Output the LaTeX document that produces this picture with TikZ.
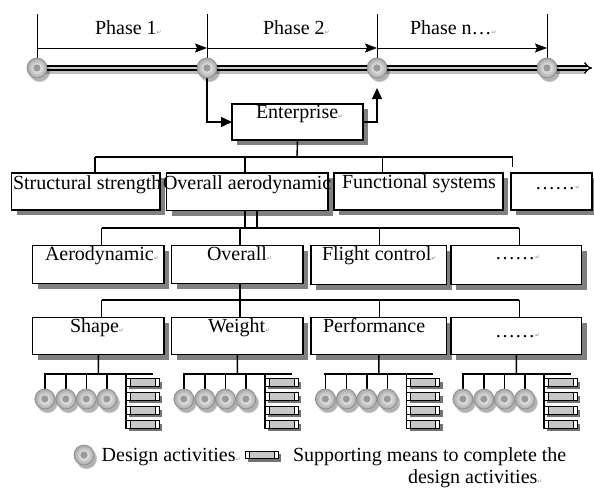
\documentclass[tikz,border=0pt]{standalone}
\usepackage{fontspec}
\setmainfont{Liberation Serif}
\newfontfamily\symfont{DejaVu Sans}
\usetikzlibrary{arrows.meta,shadows}
\newcommand{\retmark}{{\symfont\fontsize{6}{7}\selectfont\textcolor{black!45}{↵}}}
\begin{document}
\begin{tikzpicture}[x=1pt,y=-1pt,
  every node/.style={inner sep=0pt,outer sep=0pt},
  lbl/.style={anchor=base west,font=\fontsize{20}{24}\selectfont},
  box/.style={draw,line width=1.5pt,fill=white,anchor=north west,
    drop shadow={shadow xshift=5pt,shadow yshift=-5pt,fill=black!50,opacity=1}},
  conn/.style={line width=1.4pt},
  tick/.style={line width=1pt},
  tip/.style={-{Triangle[length=11pt,width=10pt]}},
  ball/.style={circle,minimum size=20pt,draw=black!45,line width=0.7pt,
    inner color=white,outer color=black!35,
    path picture={\fill[black!40] (path picture bounding box.center) circle (3.6pt);},
    circular drop shadow={shadow xshift=2pt,shadow yshift=-3pt,fill=black,opacity=0.3}},
  bar/.style={rectangle,minimum width=33pt,minimum height=7.5pt,draw=black,line width=1pt,fill=black!22,
    drop shadow={shadow xshift=3pt,shadow yshift=-3pt,fill=black!55,opacity=1},
    path picture={
      \fill[white] (path picture bounding box.south west) rectangle ([xshift=4pt]path picture bounding box.north west);
      \fill[white] ([xshift=-4pt]path picture bounding box.south east) rectangle (path picture bounding box.north east);
      \draw[line width=0.8pt] ([xshift=4pt]path picture bounding box.south west) -- ([xshift=4pt]path picture bounding box.north west);
      \draw[line width=0.8pt] ([xshift=-4pt]path picture bounding box.south east) -- ([xshift=-4pt]path picture bounding box.north east);}}
]
\useasboundingbox (0,0) rectangle (594,488);

% ---------- timeline ----------
\coordinate (tend) at (592,68);
\foreach \i/\x in {1/37,2/207,3/377,4/547} {
  \coordinate (t\i) at (\x,68);
  \coordinate (k\i) at (\x,14);
  \coordinate (a\i) at (\x,48);
}
\draw[black!25,line width=4pt] (37,72) -- (585,72);
\draw[line width=1.3pt,double=black!20,double distance=2.6pt,-{Implies}] (t1) -- (tend);
\foreach \i in {1,...,4} \draw[tick] (k\i) -- (t\i);
\draw[tick,-{Stealth[length=12pt,width=9pt,inset=2pt]}] (a1) -- (a2);
\draw[tick,-{Stealth[length=12pt,width=9pt,inset=2pt]}] (a2) -- (a3);
\draw[tick,-{Stealth[length=12pt,width=9pt,inset=2pt]}] (a3) -- (a4);
\node[lbl] (ph1) at (95,34) {Phase 1\retmark};
\node[lbl] (ph2) at (263,34) {Phase 2\retmark};
\node[lbl] (ph3) at (410,34) {Phase n…\retmark};

% ---------- Enterprise ----------
\node[box,minimum width=131pt,minimum height=36pt] (E) at (232,104) {};
\node[lbl] (Et) at (256,118) {Enterprise\retmark};
\draw[conn,tip] (t2) |- (E.west);
\draw[conn,tip] (E.east) -| ([yshift=-20pt]t3.center);
\foreach \i in {1,...,4} \node[ball] (tb\i) at (t\i) {};

% ---------- level 1 ----------
\draw[conn] (E.south) -- (297,157);
\draw[conn] (95,157) -- (512.7,157);
\node[box,minimum width=148.3pt,minimum height=37pt] (B1) at (11.7,173) {};
\node[lbl] (B1t) at (13,189) {Structural strength};
\node[box,minimum width=161.3pt,minimum height=37.5pt] (B2) at (166.7,173) {};
\node[lbl] (B2t) at (163,189) {Overall aerodynamic};
\node[box,minimum width=169pt,minimum height=37pt] (B3) at (334,173) {};
\node[lbl] (B3t) at (342,188) {Functional systems};
\node[box,minimum width=81pt,minimum height=37pt] (B4) at (511,173) {};
\node[lbl] (B4t) at (535,189) {……\retmark};
\draw[conn] (95,157) -- (95,0 |- B1.north);
\draw[conn] (245,157) -- (245,0 |- B2.north);
\draw[conn] (382.7,157) -- (382.7,0 |- B3.north);
\draw[conn] (512.7,157) -- (512.7,167);

% ---------- level 2 ----------
\draw[conn] (245,0 |- B2.south) -- (245,228);
\draw[conn] (257,0 |- B2.south) -- (257,228);
\draw[conn] (101.7,228) -- (519.3,228);
\node[box,minimum width=131.3pt,minimum height=38pt] (A) at (32.7,245.5) {};
\node[lbl] (At) at (45,260) {Aerodynamic\retmark};
\node[box,minimum width=131.3pt,minimum height=38pt] (O) at (171.7,245.5) {};
\node[lbl] (Ot) at (207,260) {Overall\retmark};
\node[box,minimum width=135.7pt,minimum height=39pt] (F) at (311,245.5) {};
\node[lbl] (Ft) at (322,260) {Flight control\retmark};
\node[box,minimum width=130.7pt,minimum height=39pt] (D) at (451,245.5) {};
\node[lbl] (Dt) at (495,259) {……\retmark};
\draw[conn] (101.7,228) -- (101.7,0 |- A.north);
\draw[conn] (240,228) -- (240,0 |- O.north);
\draw[conn] (379.3,228) -- (379.3,0 |- F.north);
\draw[conn] (519.3,228) -- (519.3,0 |- D.north);

% ---------- level 3 ----------
\draw[conn] (240,0 |- O.south) -- (240,300);
\draw[conn] (101.7,300) -- (519.3,300);
\node[box,minimum width=131.3pt,minimum height=37pt] (S) at (32.7,317.7) {};
\node[lbl] (St) at (70,332) {Shape\retmark};
\node[box,minimum width=131.3pt,minimum height=37pt] (W) at (171.7,317.7) {};
\node[lbl] (Wt) at (208,332) {Weight\retmark};
\node[box,minimum width=135.7pt,minimum height=37pt] (P) at (311,317.7) {};
\node[lbl] (Pt) at (323,332) {Performance};
\node[box,minimum width=130.7pt,minimum height=37pt] (D3) at (451,317.7) {};
\node[lbl] (D3t) at (495,337) {……\retmark};
\draw[conn] (101.7,300) -- (101.7,0 |- S.north);
\draw[conn] (240,300) -- (240,0 |- W.north);
\draw[conn] (379.3,300) -- (379.3,0 |- P.north);
\draw[conn] (519.3,300) -- (519.3,0 |- D3.north);

% ---------- activity groups ----------
\foreach \n/\c in {S/98.35,W/237.35,P/378.85,D3/516.35} {
  \draw[conn] (\n.south) -- (\c,374);
  \draw[conn] ({\c-54.5},374) -- ({\c+54.5},374);
  \foreach \j/\dx in {1/-53.5,2/-32.5,3/-12,4/8.5} {
    \draw[conn] ({\c+\dx},374) -- ({\c+\dx},399);
  }
  \draw[conn] ({\c+27.7},374) -- ({\c+27.7},429);
  \foreach \j/\dx in {1/-53.5,2/-32.5,3/-12,4/8.5} {
    \node[ball] (\n c\j) at ({\c+\dx},399) {};
  }
  \foreach \j/\yy in {1/382.5,2/396.5,3/410.5,4/424.5} {
    \node[bar] (\n b\j) at ({\c+44.2},\yy) {};
  }
}

% ---------- legend ----------
\node[ball] (lg1) at (84,455) {};
\node[lbl] (lg1t) at (101.7,461) {Design activities\retmark};
\node[bar] (lg2) at (261.5,455) {};
\node[lbl] (lg2t) at (293,461) {Supporting means to complete the};
\node[lbl] (lg3t) at (408,483) {design activities\retmark};
\end{tikzpicture}
\end{document}
